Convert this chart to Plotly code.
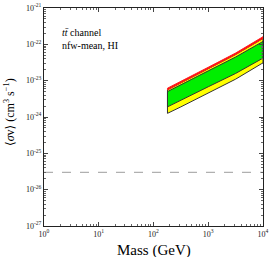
import plotly.graph_objects as go

mass = [180, 316, 1000, 3162, 10000]
red_top = [6.2e-24, 9.5e-24, 2.34e-23, 5.75e-23, 1.62e-22]
yellow_top = [5.6e-24, 8.7e-24, 2.14e-23, 5.25e-23, 1.45e-22]
green_top = [5.0e-24, 7.8e-24, 1.86e-23, 4.47e-23, 1.2e-22]
green_bot = [1.9e-24, 2.9e-24, 6.8e-24, 1.58e-23, 4.17e-23]
yellow_bot = [1.26e-24, 1.9e-24, 4.47e-24, 1.1e-23, 3.1e-23]
thermal = 3e-26
x_range = [1, 1e4]

xtick_vals = [1, 10, 100, 1000, 10000]
xtick_text = ["10<sup>0</sup>", "10<sup>1</sup>", "10<sup>2</sup>", "10<sup>3</sup>", "10<sup>4</sup>"]
ytick_vals = [1e-27, 1e-26, 1e-25, 1e-24, 1e-23, 1e-22, 1e-21]
ytick_text = ["10<sup>-27</sup>", "10<sup>-26</sup>", "10<sup>-25</sup>", "10<sup>-24</sup>",
              "10<sup>-23</sup>", "10<sup>-22</sup>", "10<sup>-21</sup>"]

SERIF = "Liberation Serif, DejaVu Serif, serif"

x_minor = [m * d for d in xtick_vals[:-1] for m in range(2, 10)]
y_minor = [m * d for d in ytick_vals[:-1] for m in range(2, 10)]


def poly(top, bot):
    return mass + mass[::-1] + [mass[0]], top + bot[::-1] + [top[0]]


fig = go.Figure()
px, py = poly(yellow_top, yellow_bot)
fig.add_trace(go.Scatter(x=px, y=py, fill="toself", fillcolor="#ffff00",
                         line=dict(color="#333333", width=1), mode="lines", hoverinfo="skip"))
px, py = poly(red_top, yellow_top)
fig.add_trace(go.Scatter(x=px, y=py, fill="toself", fillcolor="#ff0000",
                         line=dict(color="#ff2020", width=1), mode="lines", hoverinfo="skip"))
px, py = poly(green_top, green_bot)
fig.add_trace(go.Scatter(x=px, y=py, fill="toself", fillcolor="#00ee00",
                         line=dict(color="#333333", width=1), mode="lines", hoverinfo="skip"))
fig.add_trace(go.Scatter(x=x_range, y=[thermal, thermal], mode="lines",
                         line=dict(color="#b0b0b0", width=1.3, dash="dash"), hoverinfo="skip"))

fig.add_annotation(x=0.073, y=0.92, xref="paper", yref="paper", xanchor="left", yanchor="top",
                   align="left", showarrow=False,
                   text="<i>t</i><i>t\u0304</i> channel<br>nfw-mean, HI",
                   font=dict(family=SERIF, size=10, color="black"))
fig.add_annotation(x=0.5, y=-0.062, xref="paper", yref="paper", xanchor="center", yanchor="top",
                   showarrow=False, text="Mass (GeV)",
                   font=dict(family=SERIF, size=15, color="black"))
fig.add_annotation(x=-0.155, y=0.523, xref="paper", yref="paper", xanchor="center", yanchor="middle",
                   showarrow=False, textangle=-90,
                   text="\u27e8<i>\u03c3</i>v\u27e9 (cm<sup>3</sup> s<sup>\u22121</sup>)",
                   font=dict(family=SERIF, size=12, color="black"))

axis_common = dict(showgrid=False, zeroline=False, showline=True, linecolor="#222222",
                   linewidth=1, mirror="allticks", ticks="inside", ticklen=4,
                   tickcolor="#444444", tickfont=dict(family=SERIF, size=8, color="#222222"),
                   automargin=False)

fig.update_xaxes(type="log", range=[0, 4], tickvals=xtick_vals, ticktext=xtick_text,
                 minor=dict(tickmode="array", tickvals=x_minor, ticks="inside", ticklen=2,
                            tickcolor="#666666", showgrid=False),
                 **axis_common)
fig.update_yaxes(type="log", range=[-27, -21], tickvals=ytick_vals, ticktext=ytick_text,
                 minor=dict(tickmode="array", tickvals=y_minor, ticks="inside", ticklen=2,
                            tickcolor="#666666", showgrid=False),
                 **axis_common)

fig.update_layout(width=274, height=257, margin=dict(l=44, r=11, t=8, b=31, autoexpand=False),
                  paper_bgcolor="white", plot_bgcolor="white", showlegend=False)

fig.write_html("out.html", config={"displayModeBar": False},
               post_script="document.body.style.margin='0px';")
